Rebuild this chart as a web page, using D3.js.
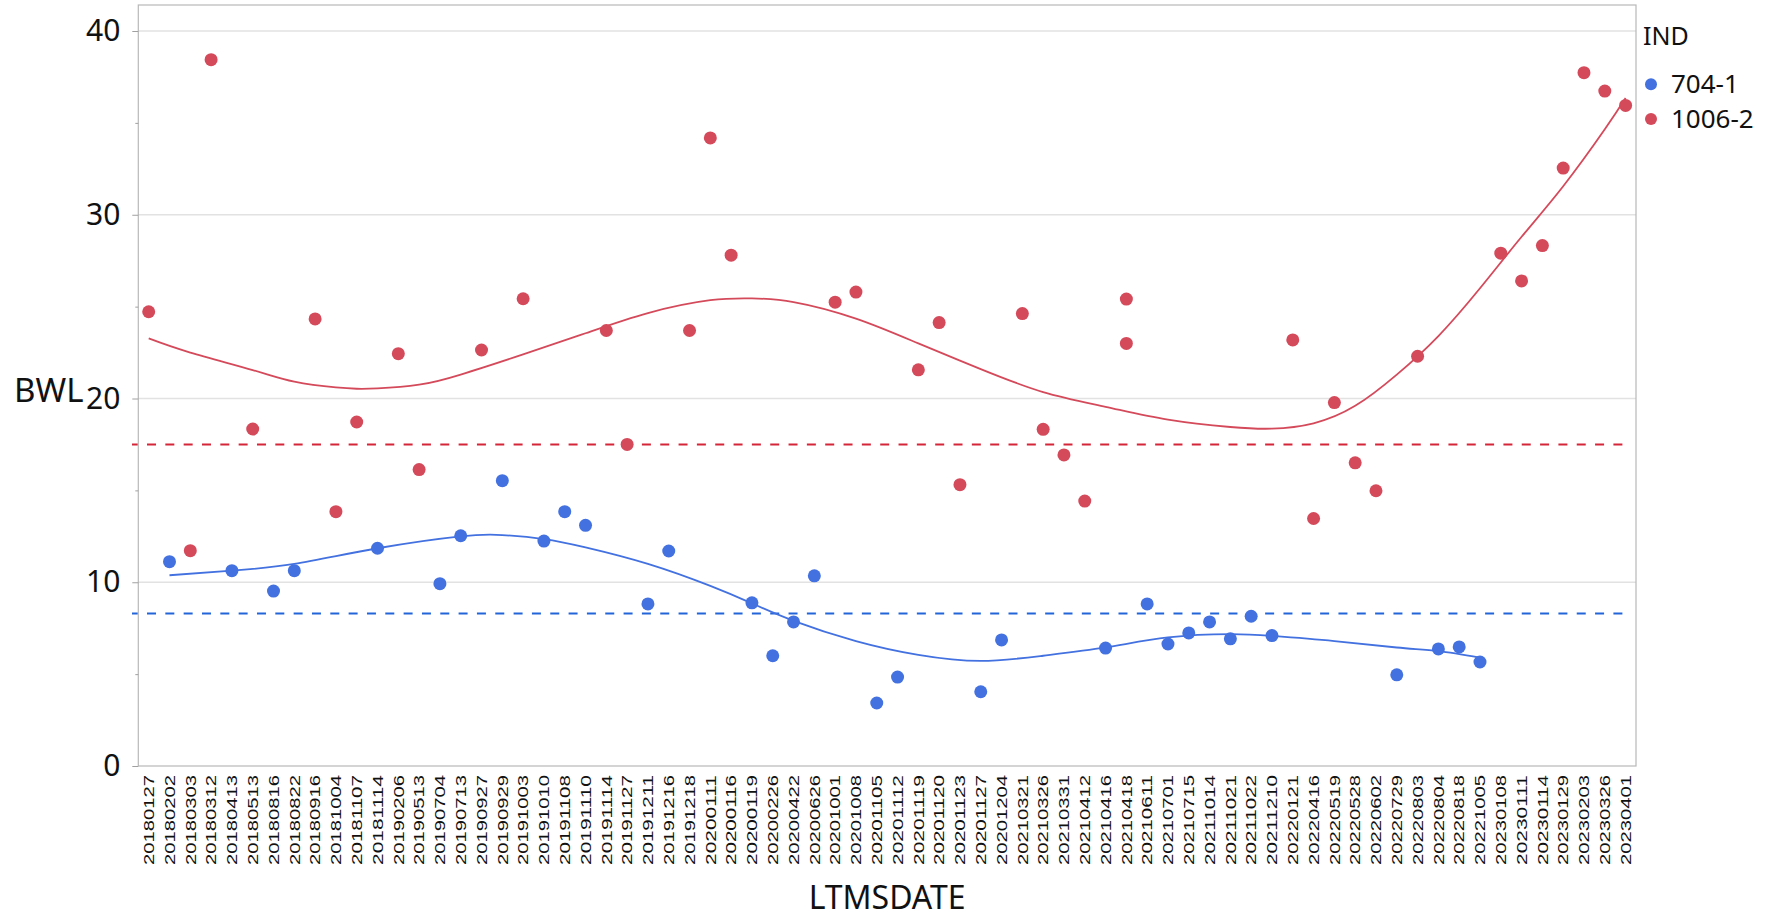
<!DOCTYPE html>
<html>
<head>
<meta charset="utf-8">
<script src="https://cdn.jsdelivr.net/npm/d3@7"></script>
<style>
  html, body { margin: 0; padding: 0; background: #fff; }
  svg { display: block; }
</style>
</head>
<body>
<svg id="chart" width="1767" height="917"></svg>
<script>
// Measurement dates (category axis)
const dates = [
  "20180127","20180202","20180303","20180312","20180413","20180513","20180816","20180822",
  "20180916","20181004","20181107","20181114","20190206","20190513","20190704","20190713",
  "20190927","20190929","20191003","20191010","20191108","20191110","20191114","20191127",
  "20191211","20191216","20191218","20200111","20200116","20200119","20200226","20200422",
  "20200626","20201001","20201008","20201105","20201112","20201119","20201120","20201123",
  "20201127","20201204","20210321","20210326","20210331","20210412","20210416","20210418",
  "20210611","20210701","20210715","20211014","20211021","20211022","20211210","20220121",
  "20220416","20220519","20220528","20220602","20220729","20220803","20220804","20220818",
  "20221005","20230108","20230111","20230114","20230129","20230203","20230326","20230401"
];

const seriesNames = ["704-1", "1006-2"];
const yTicks = [0, 10, 20, 30, 40];
const yMinorTicks = [5, 15, 25, 35];

// 704-1 observations
const blueDates = [
  "20180202","20180413","20180816","20180822","20181114","20190704","20190713","20190929",
  "20191010","20191108","20191110","20191211","20191216","20200119","20200226","20200422",
  "20200626","20201105","20201112","20201127","20201204","20210416","20210611","20210701",
  "20210715","20211014","20211021","20211022","20211210","20220729","20220804","20220818",
  "20221005"
];
const blueValues = [
  11.12, 10.63, 9.52, 10.63, 11.85, 9.92, 12.53, 15.53,
  12.24, 13.84, 13.10, 8.82, 11.70, 8.88, 6.00, 7.84,
  10.35, 3.43, 4.84, 4.04, 6.86, 6.42, 8.82, 6.64,
  7.24, 7.84, 6.92, 8.15, 7.10, 4.96, 6.37, 6.48,
  5.66
];

// 1006-2 observations
const redDates = [
  "20180127","20180303","20180312","20180513","20180916","20181004","20181107","20190206",
  "20190513","20190927","20191003","20191114","20191127","20191218","20200111","20200116",
  "20201001","20201008","20201119","20201120","20201123","20210321","20210326","20210331",
  "20210412","20210418","20210418","20220121","20220416","20220519","20220528","20220602",
  "20220803","20230108","20230111","20230114","20230129","20230203","20230326","20230401"
];
const redValues = [
  24.72, 11.72, 38.44, 18.34, 24.33, 13.84, 18.72, 22.44,
  16.13, 22.64, 25.43, 23.70, 17.50, 23.70, 34.18, 27.80,
  25.24, 25.79, 21.56, 24.13, 15.31, 24.62, 18.32, 16.93,
  14.42, 25.41, 23.00, 23.19, 13.47, 19.78, 16.50, 14.98,
  22.30, 27.91, 26.40, 28.32, 32.54, 37.73, 36.73, 35.95
];

// Smoother curves (values of the fitted spline at selected dates)
const blueFitDates = [
  "20180202","20180413","20180822","20181114","20190713","20190929","20191010","20191110",
  "20191211","20200111","20200119","20200422","20201008","20201119","20201127","20210326",
  "20210416","20210701","20211021","20211210","20220519","20220729","20220804","20221005"
];
const blueFitValues = [
  10.38, 10.63, 11.00, 11.85, 12.50, 12.57, 12.35, 11.90,
  11.00, 9.80, 8.85, 7.90, 6.80, 6.05, 5.72, 6.00,
  6.45, 7.00, 7.18, 7.08, 6.80, 6.45, 6.25, 5.90
];

const redFitDates = [
  "20180127","20180303","20180513","20180822","20181004","20181107","20181114","20190513",
  "20190713","20191003","20191110","20191211","20200111","20200119","20200422","20201008",
  "20201119","20201127","20210326","20210416","20210701","20211021","20211210","20220416",
  "20220528","20220729","20220804","20221005","20230111","20230129","20230326","20230401"
];
const redFitValues = [
  23.27, 22.50, 21.55, 20.92, 20.60, 20.53, 20.55, 20.75,
  21.30, 22.40, 23.55, 24.65, 25.35, 25.45, 25.25, 24.35,
  23.00, 21.60, 20.35, 19.55, 18.85, 18.45, 18.36, 18.65,
  19.60, 21.30, 23.40, 26.00, 28.80, 31.55, 34.65, 36.35
];

// Reference levels
const refLevels = [17.5, 8.3];

const colors = {
  "704-1": "#4371e0",
  "1006-2": "#d44a5b"
};
const refColors = ["#d42638", "#2265d8"];

const svg = d3.select("#chart");
const W = 1767, H = 917;
const plot = { left: 138.3, right: 1636, top: 5, bottom: 766 };

const x = d3.scaleBand().domain(dates).range([plot.left, plot.right]).padding(0);
const cx = d => x(d) + x.bandwidth() / 2;
const y = d3.scaleLinear().domain([0, 41.415]).range([plot.bottom, plot.top]);

svg.append("rect").attr("width", W).attr("height", H).attr("fill", "#fff");

// Horizontal gridlines
svg.append("g").selectAll("line").data(yTicks.filter(t => t > 0)).join("line")
  .attr("x1", plot.left).attr("x2", plot.right)
  .attr("y1", d => y(d)).attr("y2", d => y(d))
  .attr("stroke", "#e2e2e2").attr("stroke-width", 1.5);

// Frame
svg.append("rect")
  .attr("x", plot.left).attr("y", plot.top)
  .attr("width", plot.right - plot.left).attr("height", plot.bottom - plot.top)
  .attr("fill", "none").attr("stroke", "#b8b8b8").attr("stroke-width", 1.2);

// Y axis
const yAxis = d3.axisLeft(y).tickValues(yTicks).tickSize(6).tickPadding(12);
const gy = svg.append("g").attr("transform", `translate(${plot.left},0)`).call(yAxis);
gy.select(".domain").remove();
gy.selectAll(".tick line").attr("stroke", "#a0a0a0");
gy.selectAll(".tick text")
  .attr("font-family", "'Noto Sans', 'Open Sans', sans-serif")
  .attr("font-size", 30).attr("fill", "#111");

const yMinor = d3.axisLeft(y).tickValues(yMinorTicks).tickSize(3).tickFormat("");
const gym = svg.append("g").attr("transform", `translate(${plot.left},0)`).call(yMinor);
gym.select(".domain").remove();
gym.selectAll(".tick line").attr("stroke", "#a0a0a0");

// Y axis title
svg.append("text")
  .attr("x", 14).attr("y", 401.7)
  .attr("font-family", "'Noto Sans', 'Open Sans', sans-serif")
  .attr("font-size", 33).attr("fill", "#111")
  .text("BWL");

// X axis labels (rotated)
const xAxis = d3.axisBottom(x).tickSize(0).tickPadding(0);
const gx = svg.append("g").attr("transform", `translate(0,${plot.bottom})`).call(xAxis);
gx.select(".domain").remove();
gx.selectAll(".tick text")
  .attr("font-family", "'Liberation Sans', Arial, sans-serif")
  .attr("font-size", 14.5).attr("fill", "#111")
  .attr("text-anchor", "end")
  .attr("transform", "translate(0,9) rotate(-90)")
  .attr("x", 0).attr("y", 0).attr("dy", "0.36em")
  .attr("textLength", 90).attr("lengthAdjust", "spacingAndGlyphs");

// X axis title
svg.append("text")
  .attr("x", (plot.left + plot.right) / 2).attr("y", 909)
  .attr("text-anchor", "middle")
  .attr("font-family", "'Noto Sans', 'Open Sans', sans-serif")
  .attr("font-size", 32).attr("fill", "#111")
  .text("LTMSDATE");

// Reference lines
svg.append("g").selectAll("line").data(refLevels).join("line")
  .attr("x1", 132).attr("x2", 1627)
  .attr("y1", d => y(d)).attr("y2", d => y(d))
  .attr("stroke", (d, i) => refColors[i]).attr("stroke-width", 2)
  .attr("stroke-dasharray", "9,9.33").attr("stroke-dashoffset", 3.33);

// Smoother curves
const line = d3.line().x(d => cx(d.date)).y(d => y(d.v)).curve(d3.curveNatural);
const fits = [
  { name: "704-1", pts: blueFitDates.map((d, i) => ({ date: d, v: blueFitValues[i] })) },
  { name: "1006-2", pts: redFitDates.map((d, i) => ({ date: d, v: redFitValues[i] })) }
];
svg.append("g").selectAll("path").data(fits).join("path")
  .attr("d", d => line(d.pts))
  .attr("fill", "none")
  .attr("stroke", d => colors[d.name])
  .attr("stroke-width", 1.8);

// Points
const points = [
  ...blueDates.map((d, i) => ({ name: "704-1", date: d, v: blueValues[i] })),
  ...redDates.map((d, i) => ({ name: "1006-2", date: d, v: redValues[i] }))
];
svg.append("g").selectAll("circle").data(points).join("circle")
  .attr("cx", d => cx(d.date)).attr("cy", d => y(d.v)).attr("r", 6.5)
  .attr("fill", d => colors[d.name]);

// Legend
const lg = svg.append("g").attr("font-family", "'Noto Sans', 'Open Sans', sans-serif").attr("fill", "#111");
lg.append("text").attr("x", 1643).attr("y", 45.3).attr("font-size", 25).text("IND");
const items = lg.selectAll("g.item").data(seriesNames).join("g").attr("class", "item")
  .attr("transform", (d, i) => `translate(0,${84.3 + i * 34.7})`);
items.append("circle").attr("cx", 1651).attr("cy", 0).attr("r", 6).attr("fill", d => colors[d]);
items.append("text").attr("x", 1671).attr("y", 8.6).attr("font-size", 26).text(d => d);
</script>
</body>
</html>
